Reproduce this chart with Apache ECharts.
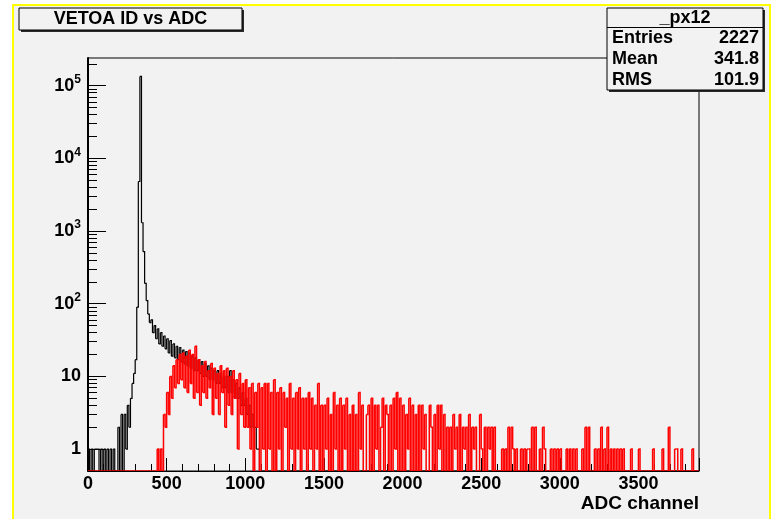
<!DOCTYPE html>
<html><head><meta charset="utf-8">
<script src="https://cdn.jsdelivr.net/npm/echarts@6/dist/echarts.min.js"></script>
<style>html,body{margin:0;padding:0;background:#fff}#c{width:772px;height:519px}</style>
</head><body><div id="c"></div>
<script>
// ---- data ----
const binWidth = 10;            // ADC channels per bin
const xMin = 0, xMax = 3885;
const yMin = 0.5, yMax = 2.4e5;
const titleText = 'VETOA ID vs ADC';
const xAxisName = 'ADC channel';
const histName = '_px12';
const statLabels = ['Entries', 'Mean', 'RMS'];
const statValues = ['2227', '341.8', '101.9'];
const yMajorValues = [1, 10, 100, 1000, 10000, 100000];
const yMinorValues = [2,3,4,5,6,7,8,9, 20,30,40,50,60,70,80,90, 200,300,400,500,600,700,800,900,
  2000,3000,4000,5000,6000,7000,8000,9000, 20000,30000,40000,50000,60000,70000,80000,90000, 200000];

// black histogram, bins of 10 ADC starting at 0 (0..1090)
const blackCounts = [
  1,0,1,0,1,1,1,0,1,0,
  1,0,1,0,1,0,1,0,0,2,
  0,3,0,3,1,4,2,5,8,11,
  17,90,4800,134000,1300,520,190,110,72,55,
  60,40,50,33,45,28,40,26,36,24,
  33,21,31,19,28,18,26,17,25,16,
  23,15,22,14,21,13,19,12,18,12,
  17,11,16,10,15,10,14,9,13,9,
  12,8,12,8,11,7,10,7,10,6,
  12,6,9,5,8,5,7,4,6,4,
  5,3,4,2,3,2,2,1,1,0
];

// red histogram, bins of 10 ADC starting at 0 (0..3870)
const redCounts = [
  0,0,0,0,0,0,0,0,0,0,
  0,0,0,0,0,0,0,0,0,0,
  0,0,0,0,0,0,0,0,0,0,
  0,0,0,0,0,0,0,0,0,0,
  0,0,0,0,1,0,1,0,3,2,
  6,3,10,5,14,7,17,8,20,9,
  21,7,19,6,23,8,20,5,26,6,
  17,4,14,6,16,5,12,7,15,3,
  13,5,11,3,14,6,12,2,13,4,
  10,3,12,5,9,1,11,3,8,2,
  9,2,7,1,8,0,6,2,8,0,
  7,1,8,0,8,1,6,0,9,0,
  6,1,7,0,6,2,5,0,8,1,
  5,0,6,1,7,0,5,1,5,0,
  6,1,5,0,4,1,8,0,4,0,
  4,1,5,0,3,0,6,1,4,0,
  5,0,4,1,5,0,3,0,4,0,
  3,0,6,1,4,0,0,3,4,0,
  5,0,4,1,4,0,2,5,0,4,
  3,0,4,0,5,1,6,0,5,0,
  4,0,3,1,5,0,4,0,3,0,
  4,0,4,1,3,0,0,4,2,0,
  3,0,4,1,4,0,3,0,2,0,
  2,0,3,1,2,0,3,0,2,1,
  2,0,3,0,2,1,2,0,0,3,
  1,0,2,0,2,1,2,0,2,0,
  0,0,0,1,0,1,0,2,0,2,
  1,0,1,0,0,1,0,1,0,1,
  1,0,2,0,2,0,0,1,0,2,
  1,0,0,0,1,0,1,0,1,0,
  1,0,0,0,1,0,1,0,1,0,
  1,0,0,0,1,0,2,0,2,0,
  0,0,1,0,1,0,2,0,1,0,
  2,0,1,0,1,0,1,0,1,0,
  1,0,0,0,0,1,0,0,0,0,
  1,0,0,0,0,0,0,0,0,1,
  0,0,0,0,0,1,0,0,0,2,
  0,0,0,1,1,0,0,1,0,0,
  0,0,0,0,1,0,0,0
];

// ---- histogram bins -> [left, right, value, nextValue] (empty bins sit on the axis floor, as ROOT draws them) ----
function binItems(counts) {
  const f = c => (c > 0 ? c : yMin);
  const items = counts.map((c, i) => [
    xMin + i * binWidth,
    xMin + (i + 1) * binWidth,
    f(c),
    i + 1 < counts.length ? f(counts[i + 1]) : yMin
  ]);
  const endX = xMin + counts.length * binWidth;
  if (endX < xMax) items.push([endX, xMax, yMin, yMin]);
  return items;
}

function histSeries(name, counts, color, width, z) {
  return {
    type: 'custom', name: name, z: z, silent: true, clip: true,
    encode: {x: [0, 1], y: [2, 3]},
    data: binItems(counts),
    renderItem: function (params, api) {
      const xl = api.value(0), xr = api.value(1), v = api.value(2), vn = api.value(3);
      const pts = [];
      if (params.dataIndex === 0) pts.push(api.coord([xl, yMin]));
      pts.push(api.coord([xl, v]), api.coord([xr, v]), api.coord([xr, vn]));
      return {type: 'polyline', shape: {points: pts}, style: {stroke: color, lineWidth: width, fill: null}};
    }
  };
}

const FONT = '"Liberation Sans", Arial, Helvetica, sans-serif';
const chart = echarts.init(document.getElementById('c'), null, {renderer: 'canvas'});

const statEls = [];
const boxX = 607, boxY = 8, boxW = 156, boxH = 82;
statEls.push({type:'rect', z:100, shape:{x:boxX+2, y:boxY+2, width:boxW, height:boxH}, style:{fill:'#2a2a2a'}});
statEls.push({type:'rect', z:101, shape:{x:boxX, y:boxY, width:boxW, height:boxH}, style:{fill:'#f2f2f2', stroke:'#000', lineWidth:1}});
statEls.push({type:'line', z:102, shape:{x1:boxX, y1:boxY+19.5, x2:boxX+boxW, y2:boxY+19.5}, style:{stroke:'#000', lineWidth:1}});
statEls.push({type:'text', z:103, x:boxX+boxW/2, y:boxY+10, style:{text:histName, fontSize:18, fontWeight:'bold', fontFamily:FONT, fill:'#000', align:'center', verticalAlign:'middle'}});
statLabels.forEach((lab, i) => {
  const yy = boxY + 30 + i * 21;
  statEls.push({type:'text', z:103, x:boxX+5, y:yy, style:{text:lab, fontSize:18, fontWeight:'bold', fontFamily:FONT, fill:'#000', align:'left', verticalAlign:'middle'}});
  statEls.push({type:'text', z:103, x:boxX+boxW-4, y:yy, style:{text:statValues[i], fontSize:18, fontWeight:'bold', fontFamily:FONT, fill:'#000', align:'right', verticalAlign:'middle'}});
});

const option = {
  animation: false,
  backgroundColor: '#ffffff',
  grid: {left: 88, top: 58, width: 611, height: 413, show: true, borderColor: '#000', borderWidth: 1, backgroundColor: 'transparent', containLabel: false},
  xAxis: {
    type: 'value', min: xMin, max: xMax, interval: 500,
    axisLine: {show: true, onZero: false, lineStyle: {color: '#000', width: 1}},
    axisTick: {show: true, inside: true, length: 13, lineStyle: {color: '#000', width: 1}},
    minorTick: {show: true, splitNumber: 5, length: 7, lineStyle: {color: '#000', width: 1}},
    splitLine: {show: false},
    axisLabel: {show: true, showMaxLabel: false, margin: 4, color: '#000', fontSize: 18, fontWeight: 'bold', fontFamily: FONT,
      formatter: function (v) { return String(v); }}
  },
  yAxis: [{
    type: 'log', logBase: 10, min: yMin, max: yMax,
    axisLine: {show: true, lineStyle: {color: '#000', width: 2}},
    axisTick: {show: true, inside: true, length: 18, customValues: yMajorValues, lineStyle: {color: '#000', width: 1}},
    splitLine: {show: false},
    axisLabel: {
      show: true, margin: 7, customValues: yMajorValues, color: '#000',
      formatter: function (v) {
        const e = Math.round(Math.log10(v));
        if (e === 0) return '{b|1}';
        if (e === 1) return '{b|10}';
        return '{b|10}{s|' + e + '}';
      },
      rich: {
        b: {fontSize: 18, fontWeight: 'bold', fontFamily: FONT, color: '#000', lineHeight: 24},
        s: {fontSize: 12, fontWeight: 'bold', fontFamily: FONT, color: '#000', lineHeight: 12, verticalAlign: 'top'}
      }
    }
  }, {
    type: 'log', logBase: 10, min: yMin, max: yMax, position: 'left',
    axisLine: {show: false},
    axisTick: {show: true, inside: true, length: 9, customValues: yMinorValues, lineStyle: {color: '#000', width: 1}},
    axisLabel: {show: false},
    splitLine: {show: false}
  }],
  series: [
    histSeries('black', blackCounts, '#000000', 1.2, 3),
    histSeries('red', redCounts, '#ff0000', 1.5, 4)
  ],
  graphic: [
    {type:'rect', z:-10, silent:true, shape:{x:13, y:5, width:757, height:540}, style:{fill:'#f2f2f2', stroke:'#ffff00', lineWidth:2}},
    {type:'rect', z:100, shape:{x:21, y:10, width:223, height:22}, style:{fill:'#2a2a2a'}},
    {type:'rect', z:101, shape:{x:19, y:8, width:223, height:22}, style:{fill:'#f2f2f2', stroke:'#000', lineWidth:1}},
    {type:'text', z:102, x:130.5, y:19, style:{text:titleText, fontSize:18, fontWeight:'bold', fontFamily:FONT, fill:'#000', align:'center', verticalAlign:'middle'}},
    {type:'text', z:102, x:699, y:504, style:{text:xAxisName, fontSize:19, fontWeight:'bold', fontFamily:FONT, fill:'#000', align:'right', verticalAlign:'middle'}}
  ].concat(statEls)
};
chart.setOption(option);
</script>
</body></html>
